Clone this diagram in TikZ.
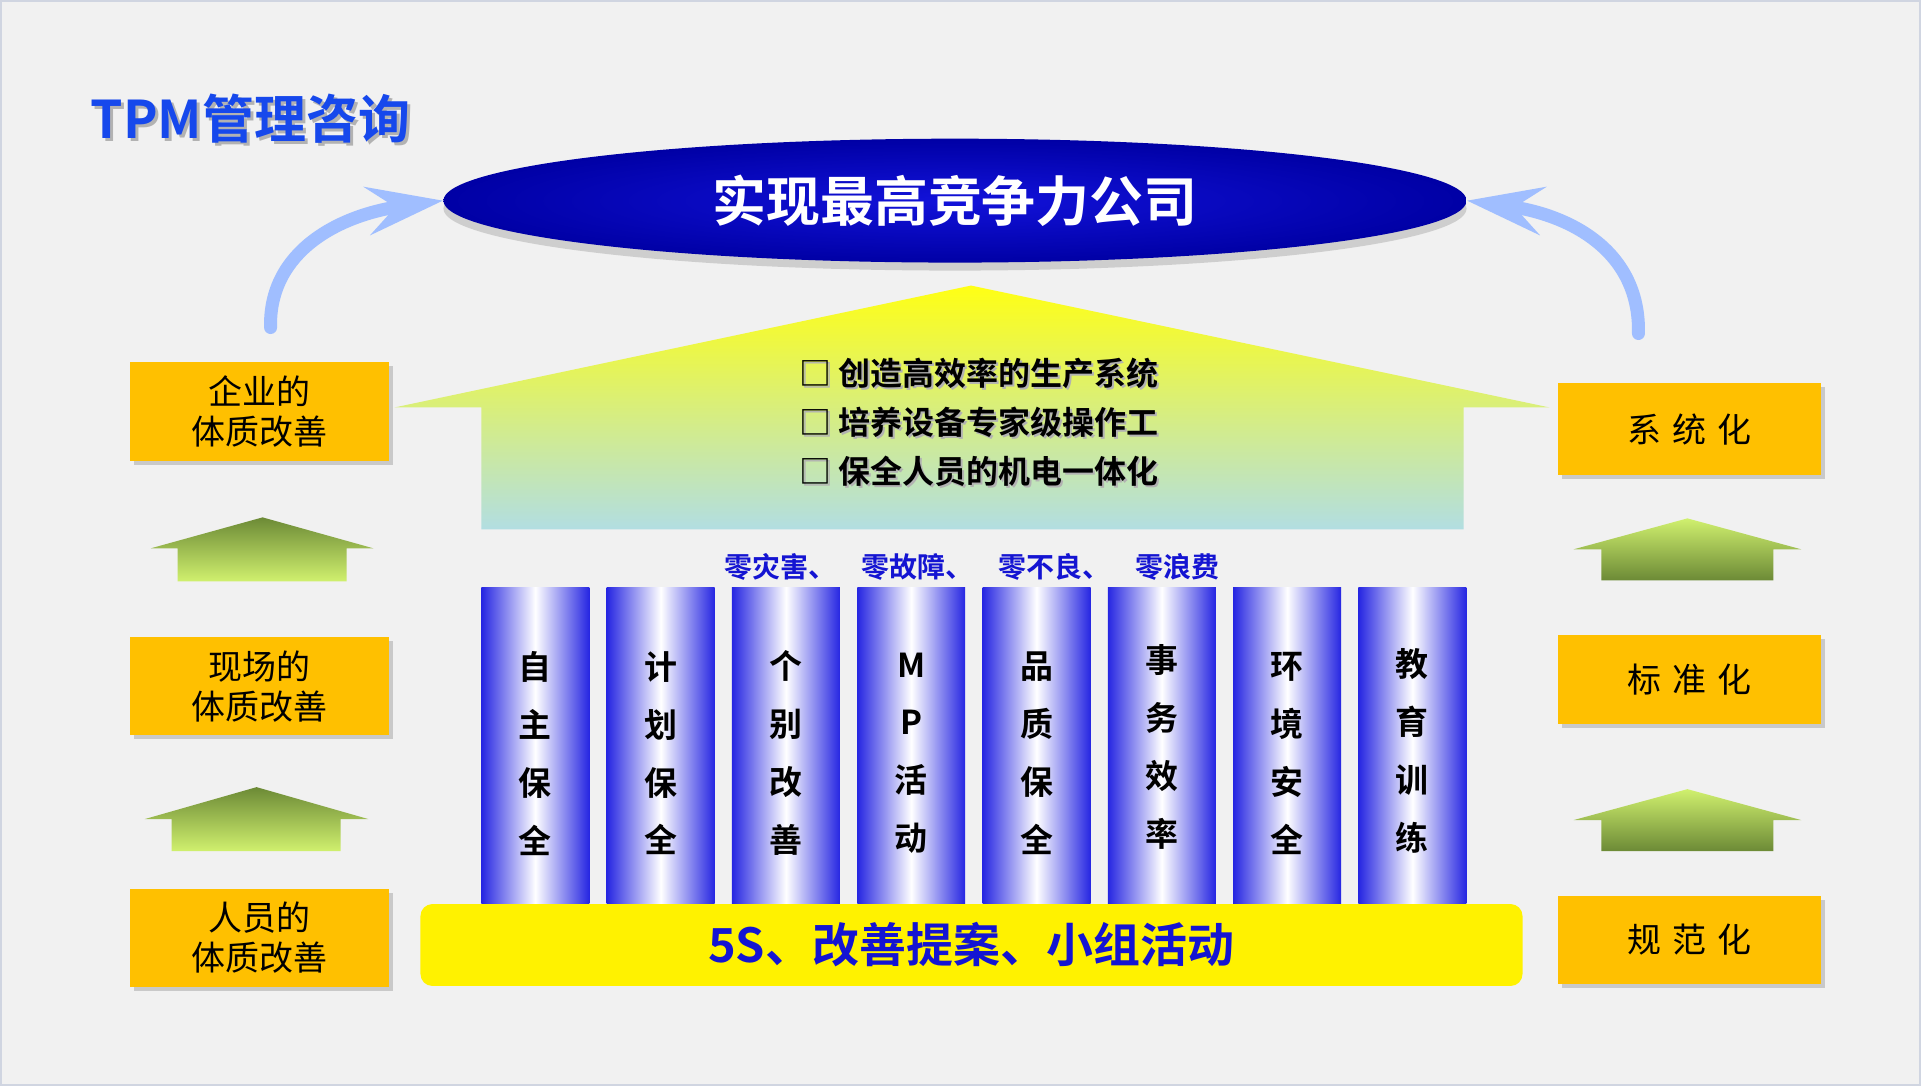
\documentclass[tikz,border=0pt]{standalone}
\usepackage{fontspec}
\setmainfont[BoldFont={Noto Sans CJK SC Bold}]{Noto Sans CJK SC}
\definecolor{bgray}{RGB}{241,241,241}
\definecolor{frame}{RGB}{208,213,225}
\definecolor{titleblue}{RGB}{22,72,236}
\definecolor{navy}{RGB}{0,0,165}
\definecolor{royal}{RGB}{18,18,218}
\definecolor{skyarrow}{RGB}{160,190,255}
\definecolor{gold}{RGB}{255,192,0}
\definecolor{pillarblue}{RGB}{38,38,226}
\definecolor{textblue}{RGB}{20,20,210}
\definecolor{greendark}{RGB}{108,138,54}
\definecolor{greenlight}{RGB}{208,240,110}
\definecolor{roofyellow}{RGB}{255,255,20}
\definecolor{paleyellow}{RGB}{244,248,160}
\definecolor{paleblue}{RGB}{178,222,226}
\usepackage{tikz}
\usetikzlibrary{positioning, shapes.geometric, shadows, arrows.meta}

\begin{document}
\begin{tikzpicture}[x=0.5pt, y=-0.5pt,
    sidebox/.style={fill=gold, minimum width=130pt, inner sep=0pt, align=center,
        drop shadow={shadow xshift=2pt, shadow yshift=-2pt, opacity=0.35},
        font=\fontsize{17}{20}\selectfont},
    pillar/.style={left color=pillarblue, right color=pillarblue, middle color=white,
        minimum width=54pt, minimum height=158pt, inner sep=0pt},
    pillartext/.style={align=center, font=\bfseries\fontsize{16.5}{29}\selectfont},
    bend arrow/.style={skyarrow, line width=6.5pt, line cap=round,
        -{Stealth[length=38pt, width=24pt, inset=14pt]}}]

    % Background
    \fill[bgray] (0,0) rectangle (1921,1085);
    \draw[frame, line width=0.8pt] (0,0) rectangle (1921,1085);
    \useasboundingbox (0,0) rectangle (1921,1085);

    % Title
    \node[black!30, font=\bfseries\fontsize{26}{30}\selectfont, anchor=west] (titleshadow) at (86,121) {TPM管理咨询};
    \node[titleblue, font=\bfseries\fontsize{26}{30}\selectfont, anchor=west] (title) at (83,118) {TPM管理咨询};

    % Goal ellipse
    \node[ellipse, inner color=royal, outer color=navy, minimum width=512pt, minimum height=62pt,
        text=white, font=\bfseries\fontsize{27}{30}\selectfont,
        drop shadow={shadow xshift=0pt, shadow yshift=-4pt, opacity=0.3}] (goal) at (955,200) {实现最高竞争力公司};

    % Bent arrows
    \coordinate (lstart) at (270,327);
    \coordinate (rstart) at (1639,333);
    \draw[bend arrow] (lstart) .. controls (268,250) and (340,214) .. (goal.west);
    \draw[bend arrow] (rstart) .. controls (1641,250) and (1570,214) .. (goal.east);

    % House
    \shade[top color=roofyellow, middle color=paleyellow, bottom color=paleblue]
        (394,407) -- (971,285) -- (1550,407) -- (1464,407) -- (1464,529) -- (481,529) -- (481,407) -- cycle;
    \node[black!30, anchor=west, align=left, font=\bfseries\fontsize{16}{24.5}\selectfont] (aimsshadow) at (794,424)
        {□ 创造高效率的生产系统\\□ 培养设备专家级操作工\\□ 保全人员的机电一体化};
    \node[anchor=west, align=left, font=\bfseries\fontsize{16}{24.5}\selectfont] (aims) at (792,422)
        {□ 创造高效率的生产系统\\□ 培养设备专家级操作工\\□ 保全人员的机电一体化};

    % Zero targets
    \node[textblue, font=\bfseries\fontsize{14}{16}\selectfont] (zero) at (972,567)
        {零灾害、\hspace{12.5pt}零故障、\hspace{12.5pt}零不良、\hspace{12.5pt}零浪费};

    % Pillars
    \node[pillar] (p1) at (535,745) {};
    \node[pillar, right=8.3pt of p1] (p2) {};
    \node[pillar, right=8.3pt of p2] (p3) {};
    \node[pillar, right=8.3pt of p3] (p4) {};
    \node[pillar, right=8.3pt of p4] (p5) {};
    \node[pillar, right=8.3pt of p5] (p6) {};
    \node[pillar, right=8.3pt of p6] (p7) {};
    \node[pillar, right=8.3pt of p7] (p8) {};

    \node[pillartext] (t1) at ([yshift=-4pt]p1.center) {自\\主\\保\\全};
    \node[pillartext] (t2) at ([yshift=-4pt]p2.center) {计\\划\\保\\全};
    \node[pillartext] (t3) at ([yshift=-4pt]p3.center) {个\\别\\改\\善};
    \node[pillartext] (t4) at ([yshift=-4pt]p4.center) {M\\P\\活\\动};
    \node[pillartext] (t5) at ([yshift=-4pt]p5.center) {品\\质\\保\\全};
    \node[pillartext] (t6) at ([yshift=-1pt]p6.center) {事\\务\\效\\率};
    \node[pillartext] (t7) at ([yshift=-4pt]p7.center) {环\\境\\安\\全};
    \node[pillartext] (t8) at ([yshift=-3pt]p8.center) {教\\育\\训\\练};

    % Base bar
    \node[fill=yellow, rounded corners=6pt, minimum width=551.5pt, minimum height=41pt,
        text=textblue, font=\bfseries\fontsize{23.5}{26}\selectfont] (base) at (971.5,945) {5S、改善提案、小组活动};

    % Left boxes
    \node[sidebox, minimum height=49.5pt] (corp) at (259,411) {企业的\\体质改善};
    \node[sidebox, minimum height=49pt] (site) at (259,686) {现场的\\体质改善};
    \node[sidebox, minimum height=49pt] (staff) at (259,938) {人员的\\体质改善};

    % Left up arrows
    \shade[top color=greendark, bottom color=greenlight]
        (150,548) -- (262,517) -- (373,548) -- (346,548) -- (346,581) -- (177,581) -- (177,548) -- cycle;
    \shade[top color=greendark, bottom color=greenlight]
        (144,819) -- (256,787) -- (368,819) -- (340,819) -- (340,851) -- (171,851) -- (171,819) -- cycle;

    % Right boxes
    \node[sidebox, minimum width=132pt, minimum height=46pt] (sys) at (1690,429) {系\hspace{5.5pt}统\hspace{5.5pt}化};
    \node[sidebox, minimum width=132pt, minimum height=44.5pt] (std) at (1690,679) {标\hspace{5.5pt}准\hspace{5.5pt}化};
    \node[sidebox, minimum width=132pt, minimum height=44.5pt] (norm) at (1690,940) {规\hspace{5.5pt}范\hspace{5.5pt}化};

    % Right up arrows
    \shade[top color=greenlight, bottom color=greendark]
        (1574,549) -- (1688,518) -- (1802,549) -- (1774,549) -- (1774,580) -- (1602,580) -- (1602,549) -- cycle;
    \shade[top color=greenlight, bottom color=greendark]
        (1574,820) -- (1688,789) -- (1802,820) -- (1774,820) -- (1774,851) -- (1602,851) -- (1602,820) -- cycle;

\end{tikzpicture}
\end{document}
